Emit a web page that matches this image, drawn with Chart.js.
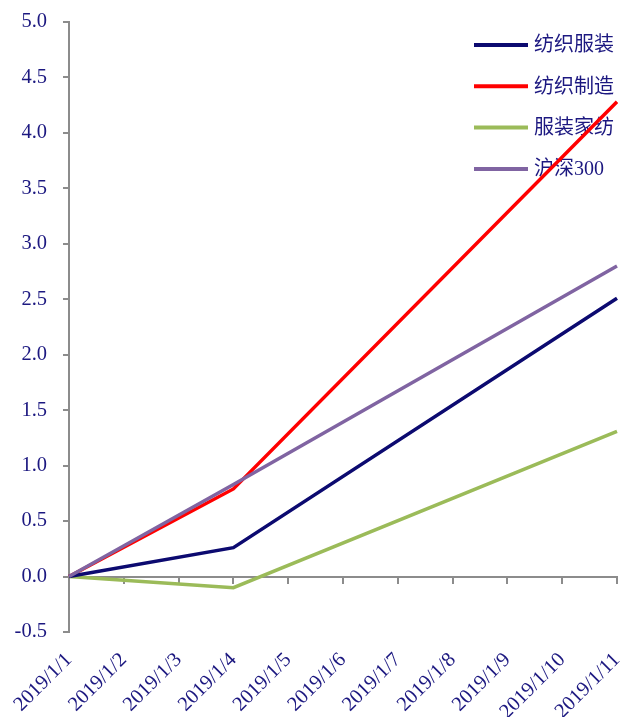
<!DOCTYPE html>
<html>
<head>
<meta charset="utf-8">
<script src="https://cdn.jsdelivr.net/npm/chart.js@4/dist/chart.umd.min.js"></script>
<style>
  html, body { margin: 0; padding: 0; background: #ffffff; }
  #wrap { width: 620px; height: 717px; }
</style>
</head>
<body>
<div id="wrap"><canvas id="chart" width="620" height="717"></canvas></div>
<script>
// Category labels (trading calendar, Jan 2019)
const dates = ['2019/1/1', '2019/1/2', '2019/1/3', '2019/1/4', '2019/1/5', '2019/1/6',
               '2019/1/7', '2019/1/8', '2019/1/9', '2019/1/10', '2019/1/11'];

// Cumulative change (%) — only observed days carry values; lines span the gaps
const textileApparel = [0, null, null, 0.26, null, null, null, null, null, null, 2.51];
const textileMfg     = [0, null, null, 0.79, null, null, null, null, null, null, 4.28];
const apparelHome    = [0, null, null, -0.10, null, null, null, null, null, null, 1.31];
const csi300         = [0, null, null, 0.83, null, null, null, null, null, null, 2.80];

const seriesNames = ['纺织服装', '纺织制造', '服装家纺', '沪深300'];
const seriesColors = ['#0c0a70', '#ff0000', '#9bbb59', '#8064a2'];

// Y axis ticks
const yMin = -0.5, yMax = 5.0, yStep = 0.5;

const labelColor = '#1c1880';
const axisColor = '#8c8c8c';
const serif = "'Liberation Serif', 'Times New Roman', serif";

const seriesData = [textileApparel, textileMfg, apparelHome, csi300];
const drawOrder = [1, 2, 3, 0];

const datasets = seriesData.map((d, i) => ({
  label: seriesNames[i],
  data: d,
  borderColor: seriesColors[i],
  backgroundColor: seriesColors[i],
  borderWidth: 3.5,
  pointRadius: 0,
  pointHoverRadius: 0,
  tension: 0,
  spanGaps: true,
  fill: false,
  order: drawOrder[i],
  borderJoinStyle: 'miter',
  xAxisID: 'x'
}));

// Vertical legend drawn in the upper-right of the plot area
const cornerLegend = {
  id: 'cornerLegend',
  beforeDatasetsDraw(chart) {
    const ctx = chart.ctx;
    const x0 = 474, x1 = 528, tx = 534;
    const y0 = 45, dy = 41.3;
    ctx.save();
    chart.data.datasets.forEach((ds, i) => {
      const y = y0 + i * dy;
      ctx.strokeStyle = ds.borderColor;
      ctx.lineWidth = 4;
      ctx.lineCap = 'butt';
      ctx.beginPath();
      ctx.moveTo(x0, y);
      ctx.lineTo(x1, y);
      ctx.stroke();
      ctx.fillStyle = labelColor;
      ctx.font = "20px 'Liberation Serif', 'Noto Sans CJK SC', serif";
      ctx.textBaseline = 'middle';
      ctx.textAlign = 'left';
      ctx.fillText(ds.label, tx, y + 1);
    });
    ctx.restore();
  }
};

new Chart(document.getElementById('chart'), {
  type: 'line',
  data: { labels: dates, datasets },
  options: {
    responsive: false,
    animation: false,
    devicePixelRatio: 1,
    layout: { padding: { top: 22, right: 3, left: 0, bottom: 0 } },
    plugins: {
      legend: { display: false },
      tooltip: { enabled: false }
    },
    scales: {
      x: {
        type: 'category',
        position: 'bottom',
        offset: false,
        grid: { display: false, drawTicks: false },
        border: { display: false },
        ticks: {
          color: labelColor,
          font: { family: serif, size: 20.5 },
          minRotation: 45,
          maxRotation: 45,
          autoSkip: false,
          padding: 16
        },
        afterFit(scale) {
          scale.height = 85;
          scale.paddingLeft = 0;
          scale.paddingRight = 0;
        }
      },
      xZero: {
        type: 'category',
        axis: 'x',
        position: { y: 0 },
        offset: false,
        grid: { display: true, drawOnChartArea: false, drawTicks: true, tickLength: 6, color: axisColor, lineWidth: 2 },
        border: { display: true, color: axisColor, width: 2 },
        ticks: { display: false, autoSkip: false },
        afterFit(scale) {
          scale.paddingLeft = 0;
          scale.paddingRight = 0;
        }
      },
      y: {
        type: 'linear',
        position: 'left',
        min: yMin,
        max: yMax,
        grid: { display: true, drawOnChartArea: false, drawTicks: true, tickLength: 6, color: axisColor, lineWidth: 2 },
        border: { display: true, color: axisColor, width: 2 },
        ticks: {
          stepSize: yStep,
          color: labelColor,
          font: { family: serif, size: 20.5 },
          padding: 16,
          callback: (v) => Number(v).toFixed(1)
        },
        afterFit(scale) {
          scale.width = 69;
          scale.paddingTop = 0;
          scale.paddingBottom = 0;
        }
      }
    }
  },
  plugins: [cornerLegend]
});
</script>
</body>
</html>
